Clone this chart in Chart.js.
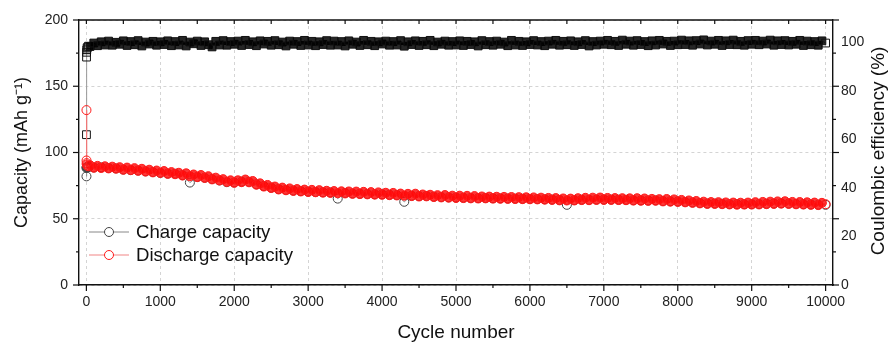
<!DOCTYPE html>
<html>
<head>
<meta charset="utf-8">
<script src="https://cdn.jsdelivr.net/npm/chart.js@4.4.1/dist/chart.umd.min.js"></script>
<style>
  body { margin: 0; background: #fff; }
  #wrap { width: 894px; height: 345px; }
</style>
</head>
<body>
<div id="wrap"><canvas id="capChart" width="894" height="345"></canvas></div>
<script>
// first cycles (activation)
const earlyCycles = [1, 2, 3, 5, 10, 20, 30];
const earlyDischarge = [132, 94, 92, 91, 90.3, 89.8, 89.6];
const earlyCharge = [82, 88.3, 88.8, 89.0, 89.0, 89.0, 89.0];
const earlyCE = [62, 94, 96, 97, 97.8, 98.2, 98.5];

// cycles 50, 100, ... 10000 (every 50th cycle)
const cycles50 = Array.from({ length: 200 }, (_, i) => (i + 1) * 50);
// cycles 100, 200, ... 10000 (every 100th cycle)
const cycles100 = Array.from({ length: 100 }, (_, i) => (i + 1) * 100);

const dischargeCap = [
  90.4, 88.5, 89.9, 88.3, 89.6, 88.0, 89.3, 87.8, 88.9, 87.0, 88.6, 86.7, 88.2, 86.2, 87.7, 85.6, 87.0, 85.0, 86.4, 84.6,
  86.0, 83.9, 85.2, 83.6, 84.7, 82.6, 84.3, 82.1, 83.4, 81.4, 83.0, 80.8, 82.1, 79.7, 81.0, 78.9, 79.9, 77.8, 79.0, 77.1,
  79.0, 77.6, 79.6, 77.5, 78.5, 75.7, 76.7, 74.3, 75.5, 73.2, 74.3, 72.1, 73.5, 71.5, 72.9, 71.0, 72.4, 70.6, 72.0, 70.2,
  71.8, 70.0, 71.6, 69.7, 71.1, 69.5, 70.9, 69.3, 70.7, 69.1, 70.6, 68.8, 70.5, 68.6, 70.3, 68.4, 70.1, 68.2, 69.9, 68.1,
  69.6, 67.8, 69.5, 67.6, 69.0, 67.4, 68.8, 67.1, 68.9, 66.8, 68.3, 66.9, 68.1, 66.4, 67.8, 66.1, 67.9, 65.9, 67.4, 65.7,
  67.4, 65.6, 67.3, 65.4, 67.1, 65.3, 66.8, 65.4, 66.7, 65.2, 66.6, 65.1, 66.5, 65.0, 66.4, 64.9, 66.3, 64.8, 66.2, 64.7,
  66.1, 64.6, 65.9, 64.4, 65.7, 64.2, 65.6, 63.9, 65.3, 63.8, 65.2, 63.8, 65.5, 64.1, 65.8, 64.0, 65.9, 64.2, 66.0, 64.2,
  65.7, 64.2, 65.6, 64.1, 65.5, 64.0, 65.4, 63.7, 65.5, 63.6, 65.3, 63.5, 65.0, 63.6, 64.8, 63.1, 64.9, 62.9, 64.6, 62.7,
  64.2, 62.4, 63.8, 62.0, 63.4, 61.6, 62.9, 61.2, 62.6, 61.2, 62.5, 61.0, 62.3, 60.8, 62.2, 60.6, 62.1, 60.7, 62.2, 60.7,
  62.5, 60.8, 62.7, 61.0, 62.9, 61.2, 63.1, 61.4, 63.2, 61.2, 62.7, 60.9, 62.6, 60.7, 62.4, 60.5, 62.2, 60.3, 62.0, 61.0
];

const chargeCap = [
  88.7, 88.8, 88.3, 88.0, 87.1, 86.7, 86.4, 85.8, 85.3, 84.6,
  84.1, 84.0, 82.9, 77.3, 81.6, 81.0, 80.0, 78.9, 77.6, 77.4,
  78.0, 77.9, 76.0, 74.7, 73.5, 72.4, 71.8, 71.3, 70.9, 70.5,
  70.2, 70.0, 69.9, 65.2, 69.5, 69.1, 68.9, 68.7, 68.5, 68.4,
  68.1, 67.9, 62.8, 67.4, 67.1, 67.2, 66.7, 66.4, 66.2, 66.0,
  65.9, 65.7, 65.6, 65.7, 65.5, 65.4, 65.3, 65.2, 65.1, 65.0,
  64.9, 64.7, 64.5, 64.2, 60.5, 64.1, 64.4, 64.3, 64.5, 64.5,
  64.5, 64.4, 64.3, 64.0, 63.9, 63.8, 63.9, 63.4, 63.2, 63.0,
  62.7, 62.3, 61.9, 61.5, 61.5, 61.3, 61.1, 61.1, 61.0, 61.0,
  61.1, 61.3, 61.5, 61.7, 61.5, 61.2, 61.0, 60.8, 60.6, 60.5
];

const coulombicEff = [
  98.4, 99.8, 98.7, 100.3, 99.0, 100.6, 98.9, 100.1, 99.3, 100.7, 98.8, 100.4, 99.1, 100.8, 98.6, 100.2, 99.4, 100.5, 98.9, 100.3,
  99.2, 100.7, 98.7, 100.4, 99.0, 100.9, 98.6, 100.2, 99.5, 100.6, 98.8, 100.3, 99.1, 98.2, 100.5, 99.0, 100.8, 98.9, 100.4, 99.3,
  100.6, 98.8, 100.9, 99.2, 100.3, 98.7, 100.7, 99.4, 100.5, 98.9, 100.8, 99.1, 100.2, 98.6, 100.6, 99.3, 100.4, 98.8, 100.9, 99.0,
  100.5, 98.7, 100.3, 99.2, 100.8, 98.9, 100.6, 99.0, 100.4, 98.6, 100.7, 99.3, 100.2, 98.8, 100.9, 99.1, 100.5, 98.7, 100.3, 99.4,
  100.6, 98.9, 100.4, 99.0, 100.8, 98.5, 100.3, 99.2, 100.7, 98.8, 100.5, 99.1, 100.9, 98.7, 100.2, 99.3, 100.6, 98.9, 100.4, 99.0,
  100.7, 98.8, 100.5, 99.2, 100.3, 98.6, 100.8, 99.1, 100.4, 98.9, 100.6, 99.3, 100.2, 98.7, 100.9, 99.0, 100.5, 98.8, 100.3, 99.2,
  100.8, 99.0, 100.4, 98.7, 100.6, 99.3, 100.9, 98.9, 100.5, 99.1, 100.7, 98.8, 100.3, 99.2, 100.8, 98.6, 100.4, 99.0, 100.6, 99.3,
  100.9, 99.1, 100.5, 98.8, 101.0, 99.3, 100.6, 98.9, 100.8, 99.2, 100.4, 98.7, 100.7, 99.0, 100.9, 99.4, 100.5, 98.8, 100.6, 99.1,
  101.0, 99.2, 100.7, 98.9, 100.8, 99.4, 101.1, 99.0, 100.6, 99.3, 100.9, 98.8, 100.7, 99.2, 101.0, 99.1, 100.5, 98.9, 100.8, 99.3,
  100.9, 99.1, 100.6, 99.4, 101.0, 98.9, 100.7, 99.2, 100.8, 99.0, 100.5, 99.3, 100.9, 98.8, 100.6, 99.1, 100.4, 98.9, 100.7, 99.8
];

const xTicks = [0, 500, 1000, 1500, 2000, 2500, 3000, 3500, 4000, 4500, 5000, 5500, 6000, 6500, 7000, 7500, 8000, 8500, 9000, 9500, 10000];
const yTicks = [0, 25, 50, 75, 100, 125, 150, 175, 200];
const y2Ticks = [0, 20, 40, 60, 80, 100];

const FONT = 'Arial, "Liberation Sans", sans-serif';
const N_EARLY = earlyCycles.length;

function pts(xs, ys) {
    return xs.map((x, i) => ({ x: x, y: ys[i] }));
}

// open markers for the isolated first / last points, filled where the band is dense
function markerFill(color) {
    return c => (c.dataIndex < N_EARLY || c.dataIndex === c.dataset.data.length - 1) ? 'rgba(255,255,255,0)' : color;
}

// tick marks (major / minor), top frame line, right axis title
const frameTicks = {
    id: 'frameTicks',
    afterDraw(chart) {
        const { ctx, chartArea: a, scales } = chart;
        const seg = (x1, y1, x2, y2) => {
            ctx.beginPath(); ctx.moveTo(x1, y1); ctx.lineTo(x2, y2); ctx.stroke();
        };
        ctx.save();
        ctx.strokeStyle = '#111';
        ctx.lineWidth = 1.4;
        seg(a.left, a.top, a.right, a.top);
        ctx.lineWidth = 1.2;
        xTicks.forEach(v => {
            const px = scales.x.getPixelForValue(v);
            seg(px, a.bottom, px, a.bottom + (v % 1000 === 0 ? 6 : 3));
            seg(px, a.top, px, a.top + 4);
        });
        yTicks.forEach(v => {
            const py = scales.y.getPixelForValue(v);
            const len = v % 50 === 0 ? 6 : 3;
            seg(a.left - len, py, a.left, py);
            seg(a.right, py, a.right + len, py);
        });
        ctx.translate(879, 151);
        ctx.rotate(-Math.PI / 2);
        ctx.fillStyle = '#111';
        ctx.font = '19px ' + FONT;
        ctx.textAlign = 'center';
        ctx.textBaseline = 'middle';
        ctx.fillText('Coulombic efficiency (%)', 0, 0);
        ctx.restore();
    }
};

// legend drawn inside the plot, lower left
const innerLegend = {
    id: 'innerLegend',
    afterDraw(chart) {
        const { ctx } = chart;
        const items = [
            { ds: chart.data.datasets[1], y: 232 },
            { ds: chart.data.datasets[0], y: 255 }
        ];
        ctx.save();
        ctx.font = '18.6px ' + FONT;
        ctx.textBaseline = 'middle';
        items.forEach(it => {
            ctx.strokeStyle = it.ds.borderColor;
            ctx.lineWidth = 1;
            ctx.beginPath(); ctx.moveTo(89, it.y); ctx.lineTo(129, it.y); ctx.stroke();
            ctx.strokeStyle = it.ds.pointBorderColor;
            ctx.fillStyle = '#fff';
            ctx.beginPath(); ctx.arc(109, it.y, 4.5, 0, Math.PI * 2); ctx.fill(); ctx.stroke();
            ctx.fillStyle = '#111';
            ctx.fillText(it.ds.label, 136, it.y + 1);
        });
        ctx.restore();
    }
};

const ctx = document.getElementById('capChart').getContext('2d');
new Chart(ctx, {
    type: 'line',
    data: {
        datasets: [{
            label: 'Discharge capacity',
            data: pts(earlyCycles, earlyDischarge).concat(pts(cycles50, dischargeCap)),
            yAxisID: 'y',
            borderColor: 'rgba(240, 120, 120, 0.9)',
            borderWidth: 1,
            pointStyle: 'circle',
            pointRadius: 4.5,
            pointBorderWidth: 1,
            pointBorderColor: '#ff1a1a',
            pointBackgroundColor: markerFill('rgba(255, 10, 10, 0.82)')
        }, {
            label: 'Charge capacity',
            data: pts(earlyCycles, earlyCharge).concat(pts(cycles100, chargeCap)),
            yAxisID: 'y',
            borderColor: '#888',
            borderWidth: 1,
            pointStyle: 'circle',
            pointRadius: 4.5,
            pointBorderWidth: 1,
            pointBorderColor: '#444',
            pointBackgroundColor: 'rgba(255,255,255,0)'
        }, {
            label: 'Coulombic efficiency',
            data: pts(earlyCycles, earlyCE).concat(pts(cycles50, coulombicEff)),
            yAxisID: 'y2',
            borderColor: '#999',
            borderWidth: 1,
            pointStyle: 'rect',
            pointRadius: 5.5,
            pointBorderWidth: 1,
            pointBorderColor: '#111',
            pointBackgroundColor: markerFill('rgba(0, 0, 0, 0.85)')
        }]
    },
    options: {
        responsive: false,
        animation: false,
        layout: { padding: { top: 20, left: 0, right: 0, bottom: 0 } },
        elements: { line: { tension: 0 } },
        plugins: {
            legend: { display: false },
            tooltip: { enabled: false }
        },
        scales: {
            x: {
                type: 'linear',
                min: -100,
                max: 10100,
                afterBuildTicks: s => { s.ticks = xTicks.map(v => ({ value: v })); },
                afterFit: s => { s.height = 60; },
                grid: {
                    drawTicks: false,
                    color: c => (c.tick && c.tick.value % 1000 === 0) ? '#d4d4d4' : 'rgba(0,0,0,0)',
                    lineWidth: 1
                },
                border: { color: '#111', width: 1.4, dash: [3, 3] },
                ticks: {
                    autoSkip: false,
                    maxRotation: 0,
                    padding: 9,
                    color: '#222',
                    font: { family: FONT, size: 14 },
                    callback: v => (v % 1000 === 0 ? String(v) : '')
                },
                title: {
                    display: true,
                    text: 'Cycle number',
                    color: '#111',
                    font: { family: FONT, size: 19 },
                    padding: { top: 0, bottom: 1 }
                }
            },
            y: {
                position: 'left',
                min: 0,
                max: 200,
                afterBuildTicks: s => { s.ticks = yTicks.map(v => ({ value: v })); },
                afterFit: s => { s.width = 79; },
                grid: {
                    drawTicks: false,
                    color: c => (c.tick && c.tick.value % 50 === 0) ? '#d4d4d4' : 'rgba(0,0,0,0)',
                    lineWidth: 1
                },
                border: { color: '#111', width: 1.4, dash: [3, 3] },
                ticks: {
                    autoSkip: false,
                    padding: 11,
                    color: '#222',
                    font: { family: FONT, size: 14 },
                    callback: v => (v % 50 === 0 ? String(v) : '')
                },
                title: {
                    display: true,
                    text: 'Capacity (mAh g⁻¹)',
                    color: '#111',
                    font: { family: FONT, size: 18 },
                    padding: { top: 11, bottom: 0 }
                }
            },
            y2: {
                position: 'right',
                min: 0,
                max: 109.3,
                afterBuildTicks: s => { s.ticks = y2Ticks.map(v => ({ value: v })); },
                afterFit: s => { s.width = 61; },
                grid: { drawOnChartArea: false, drawTicks: false },
                border: { color: '#111', width: 1.4 },
                ticks: {
                    autoSkip: false,
                    padding: 8,
                    color: '#222',
                    font: { family: FONT, size: 14 }
                },
                title: { display: false }
            }
        }
    },
    plugins: [frameTicks, innerLegend]
});
</script>
</body>
</html>
